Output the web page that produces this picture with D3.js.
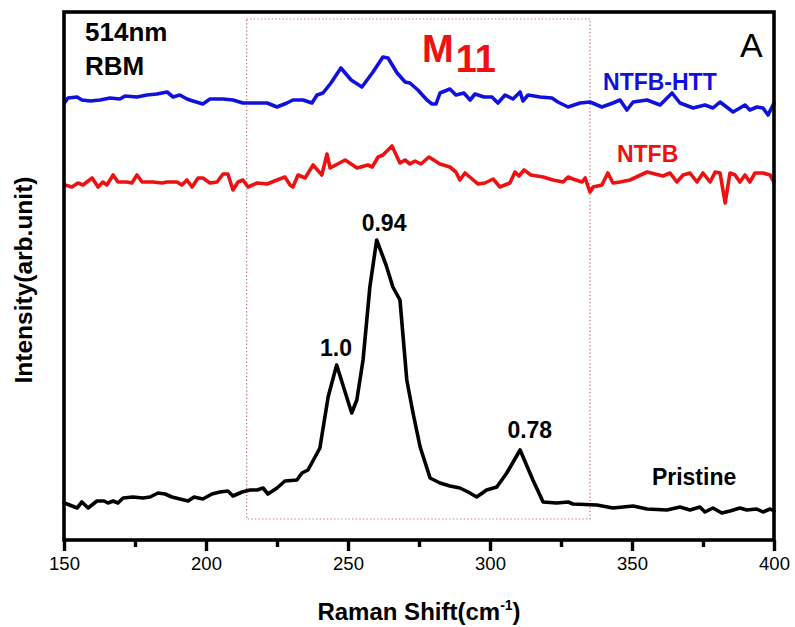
<!DOCTYPE html>
<html>
<head>
<meta charset="utf-8">
<script src="https://cdn.jsdelivr.net/npm/d3@7"></script>
<style>
  body { margin: 0; background: #fff; }
  svg { display: block; }
  text { font-family: "Liberation Sans", Arial, sans-serif; }
</style>
</head>
<body>
<svg id="chart" width="795" height="627"></svg>
<script>
// Raman RBM spectra, 514nm excitation
const xTicks = [150, 200, 250, 300, 350, 400];
const xMinorTicks = [175, 225, 275, 325, 375];

// [Raman shift (cm-1), intensity (arb. unit)]
const pristine = [
  [150.0,37],[151.1,36],[154.6,32],[156.3,38],[158.5,32],[161.6,39],[164.1,39],[165.5,37],
  [167.3,39],[169.0,37],[170.8,42],[174.3,43],[177.8,42],[180.3,43],[183.1,47],[185.6,46],
  [188.0,43],[190.8,41],[193.7,39],[195.8,43],[198.9,41],[202.1,46],[204.9,48],[207.7,49],
  [209.5,44],[212.7,48],[215.5,50],[218.0,50],[220.1,52],[221.8,46],[225.0,52],[227.8,59],
  [232.0,60],[233.8,67],[235.9,70],[238.4,83],[240.1,92],[243.0,143],[246.0,175],[251.3,127],
  [253.1,140],[255.3,180],[257.7,253],[260.1,300],[263.4,275],[265.8,253],[268.3,240],[270.7,160],
  [272.9,127],[275.4,93],[278.9,62],[282.4,57],[285.9,54],[289.4,52],[292.3,48],[295.3,43],
  [298.8,50],[302.4,53],[305.9,67],[310.6,90],[315.1,60],[318.7,38],[323.5,37],[327.5,38],
  [329.2,36],[337.6,35],[343.3,32],[350.4,34],[355.3,31],[362.3,30],[366.9,33],[370.4,30],
  [373.9,33],[375.7,28],[378.5,32],[381.6,27],[384.5,29],[388.0,32],[390.4,30],[393.9,31],
  [396.1,28],[398.6,31],[400.0,29]
];

const ntfb = [
  [150.4,355],[152.8,353],[154.9,357],[156.7,355],[159.9,362],[162.0,353],[163.7,358],[165.1,355],
  [167.3,365],[169.0,358],[172.2,358],[173.9,357],[175.7,365],[177.5,358],[181.3,358],[184.5,357],
  [186.3,358],[189.8,358],[191.5,355],[193.3,360],[195.1,353],[197.2,362],[198.9,362],[201.4,357],
  [203.9,358],[206.0,366],[207.7,366],[209.5,350],[211.3,358],[213.0,360],[214.8,353],[218.0,357],
  [221.5,356],[225.0,360],[227.8,363],[229.6,355],[230.6,353],[232.4,365],[234.9,362],[237.7,375],
  [240.8,365],[242.6,386],[243.7,372],[249.0,380],[253.2,372],[257.0,375],[258.5,373],[260.6,383],
  [262.3,385],[265.5,394],[268.3,377],[270.1,380],[271.8,376],[273.6,379],[275.7,376],[278.5,383],
  [282.4,376],[285.9,373],[288.0,368],[289.4,360],[291.2,367],[293.7,361],[295.8,356],[298.2,357],
  [301.1,361],[303.5,353],[307.0,357],[308.8,368],[310.2,364],[312.0,370],[314.4,365],[318.7,363],
  [322.2,360],[325.7,358],[327.5,363],[329.2,361],[332.4,358],[333.5,362],[335.2,348],[336.3,353],
  [339.4,355],[341.5,367],[343.3,357],[345.8,358],[349.3,360],[355.3,368],[360.9,364],[363.4,367],
  [365.8,358],[368.0,365],[370.4,367],[372.9,358],[375.0,367],[377.5,358],[379.3,368],[381.0,367],
  [382.8,337],[384.5,367],[386.3,365],[388.0,358],[389.8,365],[391.5,358],[393.3,367],[396.1,367],
  [398.6,365],[400.0,358]
];

const ntfbHtt = [
  [150.4,438],[151.4,442],[154.6,443],[156.3,440],[159.2,439],[162.7,440],[166.2,442],[169.7,441],
  [171.5,444],[175.7,443],[179.2,445],[182.7,446],[186.3,448],[188.4,443],[190.8,445],[193.3,441],
  [195.4,439],[198.9,436],[201.4,441],[206.0,441],[209.5,440],[213.0,437],[216.5,437],[221.5,437],
  [225.0,433],[228.5,437],[230.6,440],[234.2,440],[237.3,437],[239.1,445],[241.2,447],[244.0,457],
  [247.5,472],[251.1,460],[254.9,453],[258.8,468],[262.3,483],[264.1,482],[267.3,467],[270.1,458],
  [271.8,457],[274.6,450],[277.8,440],[279.6,436],[281.0,436],[282.4,447],[285.9,451],[288.0,445],
  [290.8,447],[293.0,440],[294.7,446],[297.9,443],[300.7,443],[302.8,437],[305.3,445],[308.1,441],
  [310.6,448],[311.6,439],[313.4,445],[317.6,443],[321.8,442],[323.9,438],[327.5,433],[331.7,437],
  [335.2,438],[339.4,433],[343.3,437],[345.8,440],[348.2,430],[350.4,438],[355.3,440],[359.9,435],
  [364.1,447],[366.9,437],[371.5,432],[375.7,435],[378.5,432],[381.0,438],[385.6,428],[389.8,435],
  [391.5,430],[394.0,433],[396.1,432],[397.9,425],[400.0,437]
];

const seriesNames = ["Pristine", "NTFB", "NTFB-HTT"];
const seriesColors = ["#000000", "#ee1111", "#1111dd"];
const seriesLabelPos = [[357.0, 55], [344.7, 378], [339.8, 450]];

const peakLabels = ["1.0", "0.94", "0.78"];
const peakLabelPos = [[245.8, 184], [262.7, 309], [314.0, 102]];

const m11Range = [214.3, 335.2];     // shift range of the dotted box
const m11Intensity = [21, 521];

const width = 795, height = 627;
const margin = { top: 12, right: 21, bottom: 87, left: 64 };

const svg = d3.select('#chart');

const x = d3.scaleLinear()
  .domain([150, 400])
  .range([margin.left, width - margin.right]);

const y = d3.scaleLinear()
  .domain([0, 528])
  .range([height - margin.bottom, margin.top]);

// dotted M11 box
svg.append('rect')
  .attr('x', x(m11Range[0]))
  .attr('y', y(m11Intensity[1]))
  .attr('width', x(m11Range[1]) - x(m11Range[0]))
  .attr('height', y(m11Intensity[0]) - y(m11Intensity[1]))
  .attr('fill', 'none')
  .attr('stroke', '#c86a6a')
  .attr('stroke-width', 1.2)
  .attr('stroke-dasharray', '1.2,2.4');

// spectra
const line = d3.line()
  .x(d => x(d[0]))
  .y(d => y(d[1]));

[pristine, ntfb, ntfbHtt].forEach((data, i) => {
  svg.append('path')
    .datum(data)
    .attr('d', line)
    .attr('fill', 'none')
    .attr('stroke', seriesColors[i])
    .attr('stroke-width', 3.6)
    .attr('stroke-linejoin', 'round')
    .attr('stroke-linecap', 'round');

  svg.append('text')
    .attr('x', x(seriesLabelPos[i][0]))
    .attr('y', y(seriesLabelPos[i][1]))
    .attr('fill', seriesColors[i])
    .attr('font-size', 23)
    .attr('font-weight', 'bold')
    .text(seriesNames[i]);
});

// peak ratios
peakLabels.forEach((t, i) => {
  svg.append('text')
    .attr('x', x(peakLabelPos[i][0]))
    .attr('y', y(peakLabelPos[i][1]))
    .attr('text-anchor', 'middle')
    .attr('font-size', 23)
    .attr('font-weight', 'bold')
    .text(t);
});

// frame
const plotBottom = height - margin.bottom;
svg.append('rect')
  .attr('x', margin.left)
  .attr('y', margin.top)
  .attr('width', width - margin.left - margin.right)
  .attr('height', plotBottom - margin.top)
  .attr('fill', 'none')
  .attr('stroke', '#000')
  .attr('stroke-width', 3.6);

// x axis
const xAxis = svg.append('g')
  .attr('transform', `translate(0,${plotBottom})`)
  .call(d3.axisBottom(x).tickValues(xTicks).tickSize(11).tickPadding(6).tickFormat(d3.format('d')));
xAxis.select('.domain').remove();
xAxis.selectAll('line').attr('stroke-width', 3.4);
xAxis.selectAll('text')
  .attr('font-size', 18.5)
  .attr('fill', '#000')
  .style('font-family', '"Liberation Sans", Arial, sans-serif');

svg.append('g')
  .attr('transform', `translate(0,${plotBottom})`)
  .call(d3.axisBottom(x).tickValues(xMinorTicks).tickSize(7).tickFormat(''))
  .call(g => g.select('.domain').remove())
  .selectAll('line').attr('stroke-width', 3.4);

// axis titles
const xTitle = svg.append('text')
  .attr('x', (margin.left + width - margin.right) / 2)
  .attr('y', 620)
  .attr('text-anchor', 'middle')
  .attr('font-size', 24)
  .attr('font-weight', 'bold');
xTitle.append('tspan').text('Raman Shift(cm');
xTitle.append('tspan').attr('font-size', 14).attr('dy', -10).text('-1');
xTitle.append('tspan').attr('dy', 10).text(')');

svg.append('text')
  .attr('transform', `translate(32,${(margin.top + plotBottom) / 2 + 4}) rotate(-90)`)
  .attr('text-anchor', 'middle')
  .attr('font-size', 24.5)
  .attr('font-weight', 'bold')
  .text('Intensity(arb.unit)');

// annotations
svg.append('text').attr('x', 85).attr('y', 41).attr('font-size', 26).attr('font-weight', 'bold').text('514nm');
svg.append('text').attr('x', 85).attr('y', 75).attr('font-size', 26).attr('font-weight', 'bold').text('RBM');
svg.append('text').attr('x', 740).attr('y', 57).attr('font-size', 34).text('A');

const m11 = svg.append('text')
  .attr('x', 422)
  .attr('y', 62)
  .attr('fill', '#ee1111')
  .attr('font-size', 38)
  .attr('font-weight', 'bold');
m11.append('tspan').text('M');
m11.append('tspan').attr('dy', 10).attr('dx', 2).text('11');
</script>
</body>
</html>
